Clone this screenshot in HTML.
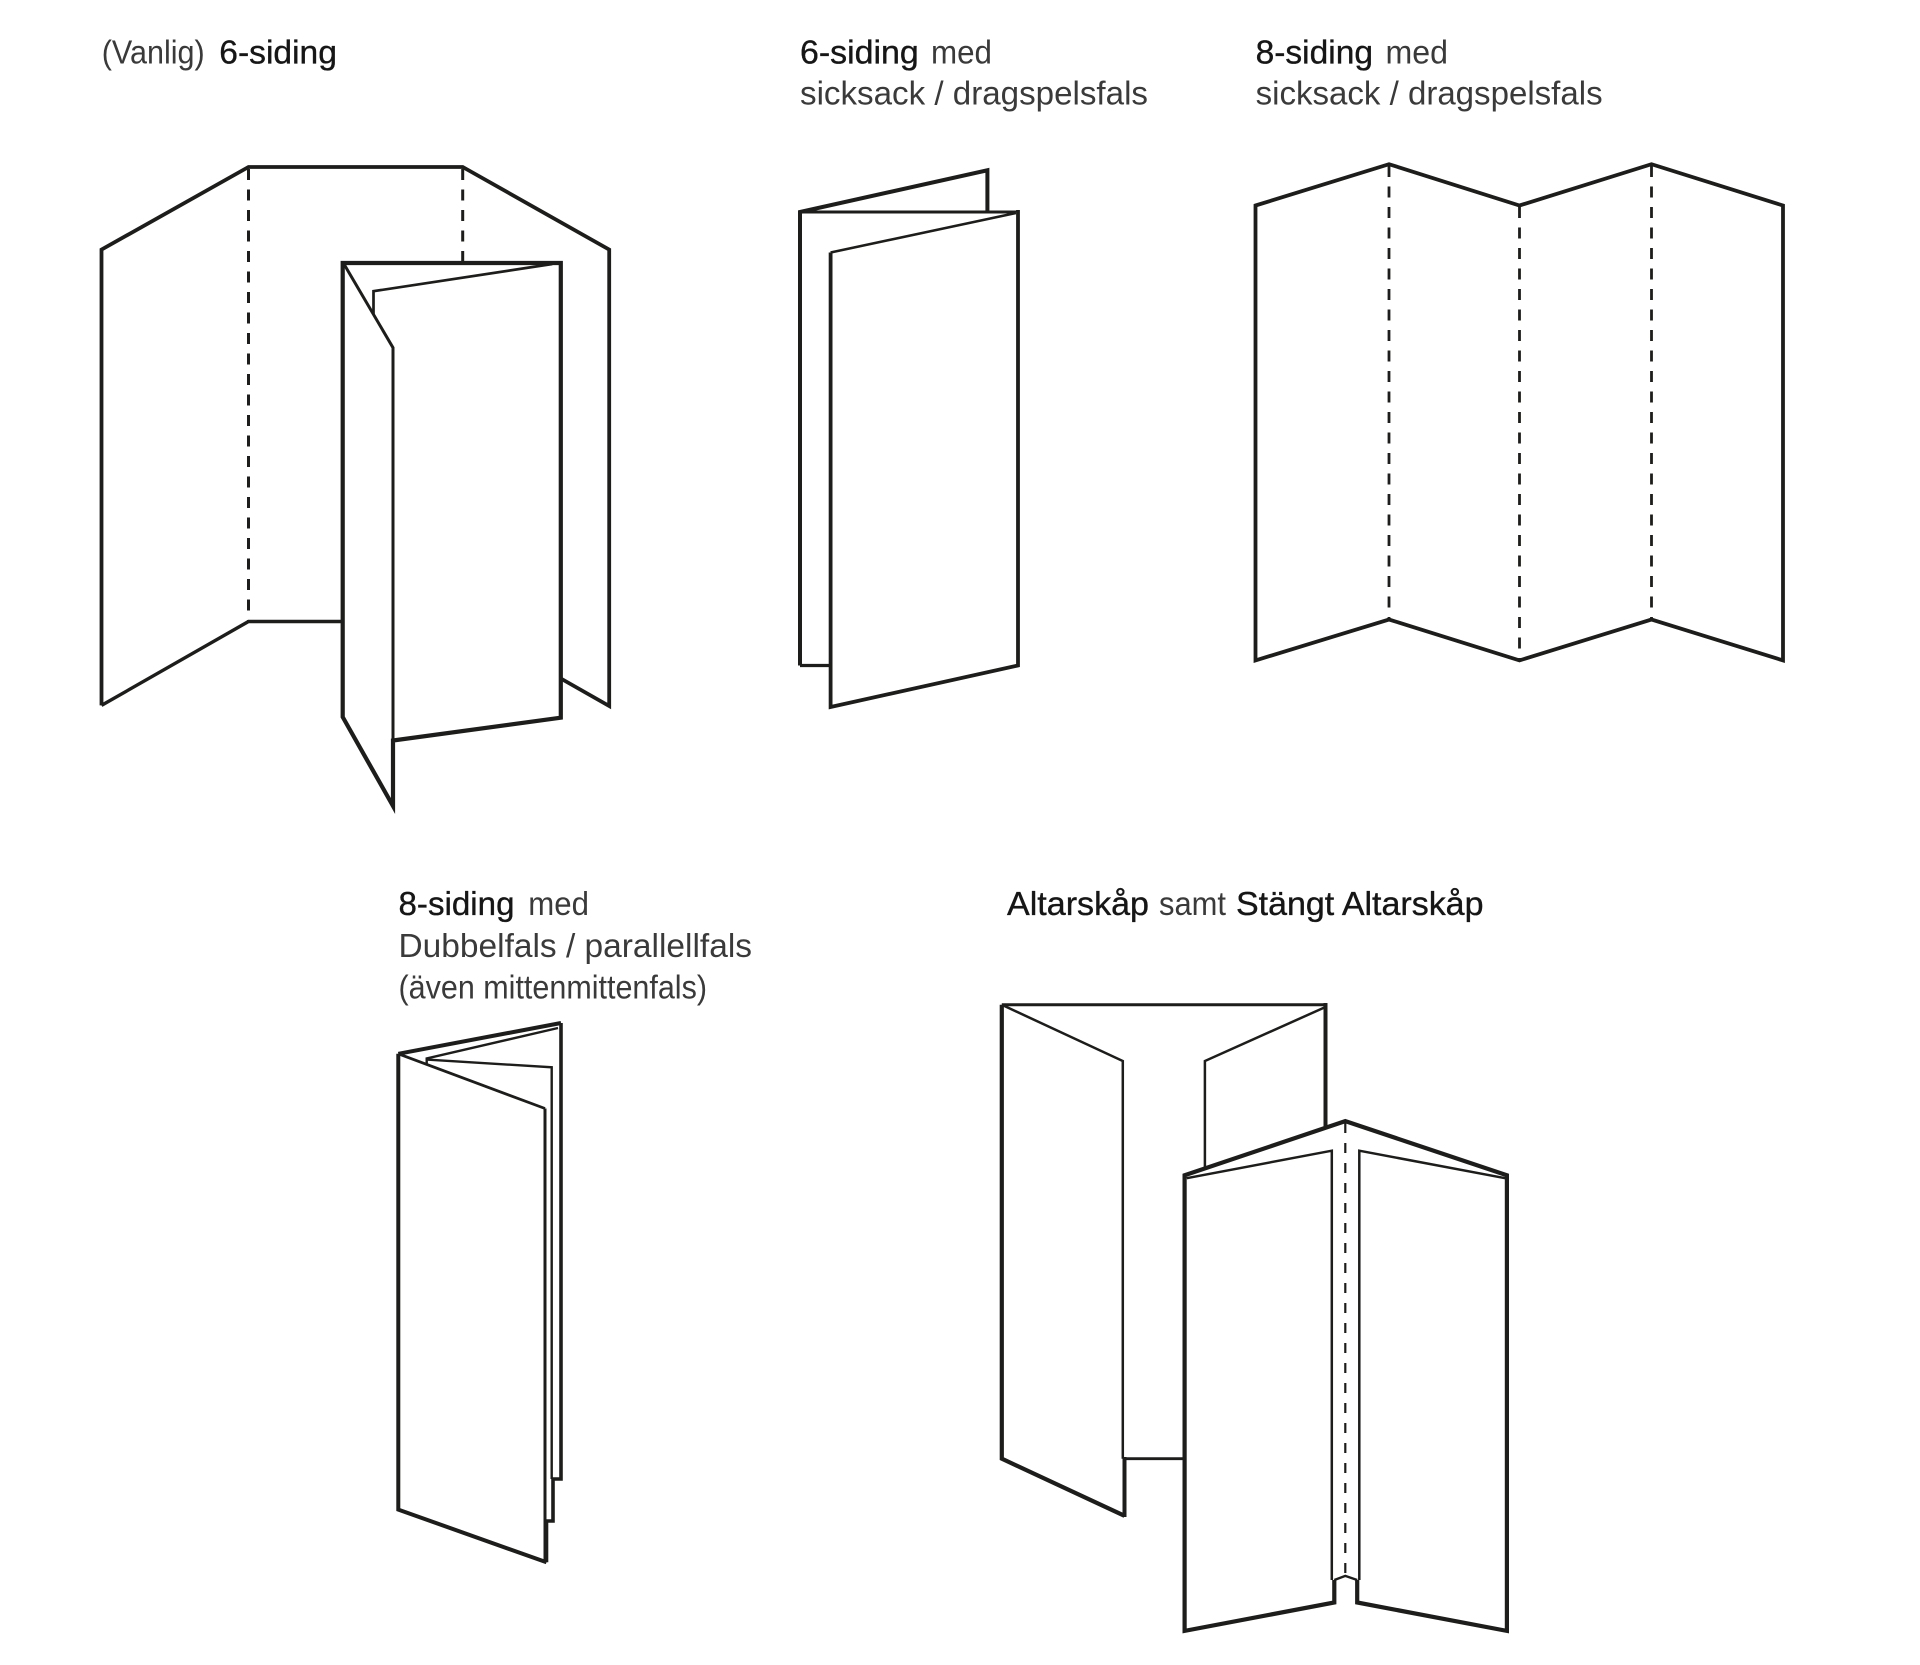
<!DOCTYPE html>
<html>
<head>
<meta charset="utf-8">
<style>
  html,body{margin:0;padding:0;background:#fff;}
  svg{display:block;}
  text{font-family:"Liberation Sans",Arial,sans-serif;font-size:33.5px;}
  .m{fill:#161616;stroke:#161616;stroke-width:0.35px;}
  .l{fill:#3a3a3a;}
</style>
</head>
<body>
<svg width="1920" height="1665" viewBox="0 0 1920 1665" xmlns="http://www.w3.org/2000/svg">
  <rect width="1920" height="1665" fill="#fff"/>

  <!-- ===== Texts ===== -->
  <text class="l" x="101.7" y="63.5" textLength="103" lengthAdjust="spacingAndGlyphs">(Vanlig)</text>
  <text class="m" x="219.3" y="63.5" textLength="117.6" lengthAdjust="spacingAndGlyphs">6-siding</text>

  <text class="m" x="800" y="63.5" textLength="118.8" lengthAdjust="spacingAndGlyphs">6-siding</text>
  <text class="l" x="931" y="63.5" textLength="61" lengthAdjust="spacingAndGlyphs">med</text>
  <text class="l" x="800" y="104.5" textLength="348" lengthAdjust="spacingAndGlyphs">sicksack / dragspelsfals</text>

  <text class="m" x="1255.6" y="63.5" textLength="117.4" lengthAdjust="spacingAndGlyphs">8-siding</text>
  <text class="l" x="1385.5" y="63.5" textLength="62.5" lengthAdjust="spacingAndGlyphs">med</text>
  <text class="l" x="1255.6" y="104.5" textLength="347" lengthAdjust="spacingAndGlyphs">sicksack / dragspelsfals</text>

  <text class="m" x="398.5" y="915" textLength="116" lengthAdjust="spacingAndGlyphs">8-siding</text>
  <text class="l" x="528.3" y="915" textLength="60.7" lengthAdjust="spacingAndGlyphs">med</text>
  <text class="l" x="398.5" y="957" textLength="353.5" lengthAdjust="spacingAndGlyphs">Dubbelfals / parallellfals</text>
  <text class="l" x="398.5" y="998.5" textLength="308.5" lengthAdjust="spacingAndGlyphs">(även mittenmittenfals)</text>

  <text class="m" x="1007" y="915" textLength="142" lengthAdjust="spacingAndGlyphs">Altarskåp</text>
  <text class="l" x="1159" y="915" textLength="67" lengthAdjust="spacingAndGlyphs">samt</text>
  <text class="m" x="1236" y="915" textLength="247.5" lengthAdjust="spacingAndGlyphs">Stängt Altarskåp</text>

  <g fill="none" stroke="#1d1d1b" stroke-linejoin="miter" stroke-linecap="butt">

    <!-- ===== Figure 1: (Vanlig) 6-siding ===== -->
    <polyline points="101.5,705.4 101.5,249.6 248.5,167 462.7,167 609.2,249.6 609.2,706 560.8,678.5" stroke-width="3.8"/>
    <polyline points="101.5,705.4 248.5,621.5 342.7,621.5" stroke-width="3.4"/>
    <line x1="248.5" y1="169" x2="248.5" y2="621.5" stroke-width="3" stroke-dasharray="11 9.5"/>
    <line x1="462.7" y1="169" x2="462.7" y2="262" stroke-width="3" stroke-dasharray="11 9.5"/>
    <polygon points="342.7,263 560.8,263 560.8,717.7 393,740.5 393,806 342.7,717" fill="#fff" stroke-width="4.2"/>
    <polyline points="343.8,263.8 393,347.7 393,740.5" stroke-width="3"/>
    <polyline points="373.5,314.4 373.5,291.2 552.3,264" stroke-width="2.7"/>

    <!-- ===== Figure 2: 6-siding sicksack ===== -->
    <polyline points="800,665.5 800,212 987.4,170.3 987.4,212" stroke-width="4"/>
    <line x1="800" y1="212" x2="1018" y2="212" stroke-width="3"/>
    <line x1="800" y1="665.5" x2="830.6" y2="665.5" stroke-width="3.2"/>
    <polygon points="830.6,252.5 1018,212 1018,665.5 830.6,707" fill="#fff" stroke="none"/>
    <line x1="830.6" y1="252.5" x2="1016" y2="213" stroke-width="2.6"/>
    <polyline points="830.6,252.5 830.6,707 1018,665.5 1018,210" stroke-width="3.8"/>

    <!-- ===== Figure 3: 8-siding sicksack ===== -->
    <polygon points="1255.5,205.5 1389,164.2 1519.5,205.5 1651.5,164.2 1783,205.5 1783,660.4 1651.5,619.5 1519.5,660.4 1389,619.5 1255.5,660.4" stroke-width="3.8"/>
    <line x1="1389" y1="166" x2="1389" y2="619" stroke-width="2.8" stroke-dasharray="11 9.5"/>
    <line x1="1519.5" y1="207" x2="1519.5" y2="660" stroke-width="2.8" stroke-dasharray="11 9.5"/>
    <line x1="1651.5" y1="166" x2="1651.5" y2="619" stroke-width="2.8" stroke-dasharray="11 9.5"/>

    <!-- ===== Figure 4: 8-siding dubbelfals ===== -->
    <polyline points="546.5,1562.3 546.5,1521 553,1521 553,1479 561,1479 561,1023" stroke-width="3.6"/>
    <line x1="398.3" y1="1053.8" x2="561" y2="1023" stroke-width="4"/>
    <polyline points="426.7,1064 426.7,1058.5 558,1028" stroke-width="2.4"/>
    <polyline points="426.7,1059.6 551.7,1067.3 551.7,1479" stroke-width="2.4"/>
    <polygon points="398.3,1053.8 545,1108.5 545,1562.3 398.3,1509.6" fill="#fff" stroke="none"/>
    <line x1="398.3" y1="1053.8" x2="545" y2="1108.5" stroke-width="2.8"/>
    <polyline points="545,1108.5 545,1562.3" stroke-width="3"/>
    <polyline points="398.3,1053.8 398.3,1509.6 546.5,1562.3" stroke-width="4"/>

    <!-- ===== Figure 5: Altarskåp ===== -->
    <line x1="1001.8" y1="1004.8" x2="1325.5" y2="1004.8" stroke-width="3"/>
    <polyline points="1124.5,1515.8 1001.8,1458.7 1001.8,1004.8" stroke-width="4.2"/>
    <line x1="1325.5" y1="1003" x2="1325.5" y2="1135" stroke-width="4"/>
    <polyline points="1001.8,1004.8 1122.8,1061 1122.8,1458.7" stroke-width="2.5"/>
    <line x1="1124.5" y1="1457" x2="1124.5" y2="1517" stroke-width="4"/>
    <line x1="1124.5" y1="1458.7" x2="1184.6" y2="1458.7" stroke-width="2.8"/>
    <polyline points="1325.5,1007 1204.9,1061 1204.9,1170" stroke-width="2.5"/>

    <polygon points="1184.6,1175.3 1345.3,1121.1 1506.9,1175.3 1506.9,1630.9 1357.2,1602.5 1357.2,1580 1345.3,1575.9 1334.3,1580 1334.3,1602.5 1184.6,1630.9" fill="#fff" stroke="none"/>
    <polyline points="1186.7,1178.2 1331.8,1150.7 1331.8,1580" stroke-width="2.5"/>
    <polyline points="1359.3,1580 1359.3,1150.7 1505.2,1178.2" stroke-width="2.5"/>
    <line x1="1345.3" y1="1123" x2="1345.3" y2="1575" stroke-width="2.2" stroke-dasharray="10 10"/>
    <polyline points="1334.3,1580 1345.3,1575.9 1357.2,1580" stroke-width="2.4"/>
    <polyline points="1334.3,1580 1334.3,1602.5 1184.6,1630.9 1184.6,1175.3 1345.3,1121.1 1506.9,1175.3 1506.9,1630.9 1357.2,1602.5 1357.2,1580" stroke-width="4.2"/>
  </g>
</svg>
</body>
</html>
